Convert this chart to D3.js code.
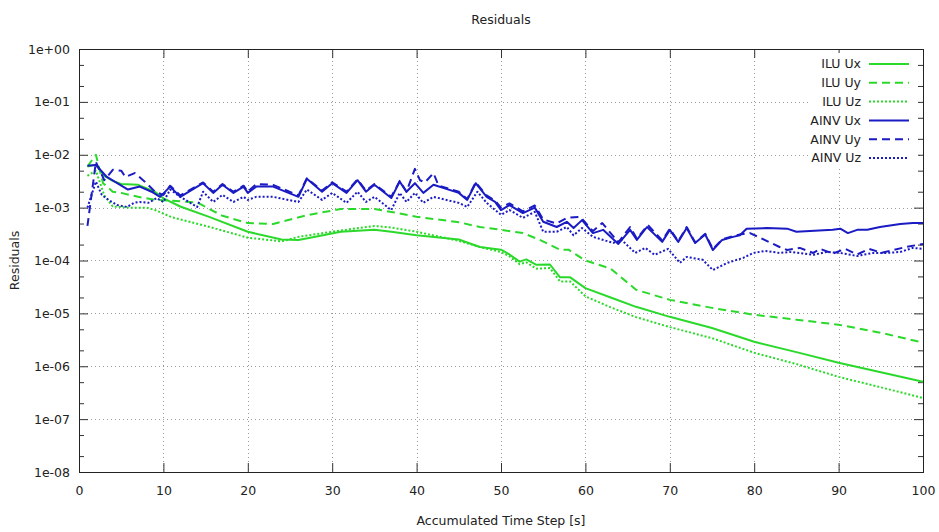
<!DOCTYPE html>
<html>
<head>
<meta charset="utf-8">
<script src="https://cdn.jsdelivr.net/npm/d3@7"></script>
<style>
  body { margin: 0; background: #fff; }
  text { font-family: "DejaVu Sans", sans-serif; font-size: 12.5px; fill: #222; }
</style>
</head>
<body>
<svg id="chart" width="939" height="532"></svg>
<script>
// tick values and labels
var xTicks = [0, 10, 20, 30, 40, 50, 60, 70, 80, 90, 100];
var yTicks = [1, 1e-1, 1e-2, 1e-3, 1e-4, 1e-5, 1e-6, 1e-7, 1e-8];
var yTickLabels = ["1e+00", "1e-01", "1e-02", "1e-03", "1e-04", "1e-05", "1e-06", "1e-07", "1e-08"];
var yMinorSteps = [2, 5];

var seriesNames = ["ILU Ux", "ILU Uy", "ILU Uz", "AINV Ux", "AINV Uy", "AINV Uz"];

// ILU Ux
var tIluUx = [1,2,3,4,5,7,9,10,12,15.5,20,24,26,28,31,35,37,40,45,47.5,50,51,52.2,53,54.2,55.8,57,58.2,60,63,66,70,75,80,85,90,95,100];
var vIluUx = [6e-3,6.5e-3,4e-3,3.2e-3,2.8e-3,2.7e-3,2e-3,1.5e-3,1.05e-3,6.6e-4,3.5e-4,2.5e-4,2.45e-4,2.8e-4,3.5e-4,3.8e-4,3.5e-4,3.0e-4,2.5e-4,1.8e-4,1.6e-4,1.3e-4,9.5e-5,1.05e-4,8.3e-5,8.4e-5,4.8e-5,4.8e-5,3.0e-5,2.0e-5,1.33e-5,8.6e-6,5.3e-6,2.9e-6,1.85e-6,1.16e-6,7.7e-7,5.1e-7];

// ILU Uy
var tIluUy = [1,2,2.85,4,5,7,9,11,14,17,20,23,27,31,35,37,40,45,47.5,50,52.6,54.6,57,58,60,63,66,70,75,80,85,90,95,100];
var vIluUy = [6e-3,1e-2,2.9e-3,2.0e-3,1.9e-3,1.6e-3,1.4e-3,1.35e-3,1.25e-3,7e-4,5.1e-4,4.9e-4,7.2e-4,9.4e-4,9.4e-4,8.3e-4,6.7e-4,5.3e-4,4.3e-4,3.8e-4,3.3e-4,2.45e-4,1.6e-4,1.6e-4,1.0e-4,7e-5,2.8e-5,1.8e-5,1.27e-5,9.4e-6,7.6e-6,6.1e-6,4.3e-6,2.8e-6];

// ILU Uz
var tIluUz = [1,2,3,4,6,8,9,11,15.5,20,24,26,31,35,37,40,45,47.5,50,51,52.2,53,54.2,55.8,57,58.2,60,63,66,70,75,80,85,90,95,100];
var vIluUz = [4e-3,5e-3,1.7e-3,1.05e-3,1.0e-3,1.0e-3,9e-4,6.6e-4,4.3e-4,2.7e-4,2.3e-4,2.8e-4,3.7e-4,4.5e-4,4.2e-4,3.5e-4,2.35e-4,1.8e-4,1.45e-4,1.2e-4,8.5e-5,9.2e-5,7.0e-5,7.2e-5,4.0e-5,4.0e-5,2.1e-5,1.3e-5,8.5e-6,5.5e-6,3.4e-6,1.8e-6,1.1e-6,6.3e-7,4e-7,2.5e-7];

// AINV Ux
var tAinvUx = [1,2,3.3,5.8,7.2,8.6,9.6,10.8,12,14.7,15.9,17,18.3,19.5,20,21,23,26,27,28.8,30,31.7,33,34,35,37,38,38.8,39.8,40.8,42,45,46,47,48.3,49.3,50,51,52.6,54,55,56.6,57.8,58.6,59.6,60.9,62.1,63.9,65.3,66.1,67.3,69.1,70,71,72,73,74.2,75.1,76.2,77.5,78.3,79.1,81.5,83.9,85,89.3,90.2,91.1,92.2,93.4,94.9,97.3,98.8,100];
var vAinvUx = [6.2e-3,6.4e-3,3.8e-3,2.2e-3,2.5e-3,2.0e-3,1.6e-3,2.5e-3,1.6e-3,2.9e-3,1.9e-3,2.7e-3,1.9e-3,2.5e-3,1.9e-3,2.5e-3,2.5e-3,1.6e-3,3.5e-3,2.0e-3,2.9e-3,1.9e-3,3.3e-3,2.0e-3,2.7e-3,1.52e-3,3.1e-3,2.0e-3,2.9e-3,1.9e-3,2.7e-3,1.9e-3,1.4e-3,2.9e-3,1.6e-3,1.28e-3,9e-4,1.12e-3,7.9e-4,1.0e-3,5.4e-4,4.3e-4,5.4e-4,4.1e-4,5.8e-4,3.3e-4,3.8e-4,2.06e-4,3.8e-4,2.45e-4,4.3e-4,2.25e-4,3.8e-4,2.25e-4,4.1e-4,2.15e-4,3.1e-4,1.58e-4,2.45e-4,2.8e-4,3.0e-4,4.0e-4,4.1e-4,4.0e-4,3.5e-4,3.8e-4,4.0e-4,3.3e-4,3.8e-4,3.8e-4,4.3e-4,4.9e-4,5.1e-4,5.1e-4];

// AINV Uy
var tAinvUy = [1,2,3,4,5,5.5,6.6,7.8,9,10,10.8,12,14.7,15.9,17,18.3,19.5,20,21,23,26,27,28.8,30,31.7,33,34,35,37,38,38.8,39.8,40.4,41,42,42.6,45,46,47,48.3,49.3,50,51,52.6,54,55,56.6,57.8,59.4,60.9,62,63.9,65.3,66.1,67.4,69.1,70,71,72,73,74.2,75.1,76.2,77.5,78.3,79.5,80.7,83,83.9,85.4,87,87.8,89.3,90.8,92.2,93.6,95.1,96.6,98,100];
var vAinvUy = [4.5e-4,7.3e-3,3.3e-3,5.2e-3,5.0e-3,3.8e-3,4.5e-3,3.1e-3,2.0e-3,1.74e-3,2.6e-3,1.7e-3,3.0e-3,2.0e-3,2.8e-3,2.0e-3,2.6e-3,2.0e-3,2.8e-3,2.7e-3,1.7e-3,3.6e-3,2.1e-3,3.0e-3,2.0e-3,3.4e-3,2.1e-3,2.8e-3,1.6e-3,3.2e-3,2.0e-3,5.4e-3,3.3e-3,3.0e-3,4.5e-3,2.6e-3,2.0e-3,1.45e-3,3.0e-3,1.7e-3,1.35e-3,1.0e-3,1.2e-3,8.5e-4,1.1e-3,6.0e-4,5.0e-4,6.4e-4,6.7e-4,3.6e-4,5.1e-4,2.2e-4,4.3e-4,2.6e-4,4.7e-4,2.4e-4,4.0e-4,2.3e-4,4.3e-4,2.2e-4,3.2e-4,1.65e-4,2.5e-4,2.9e-4,3.1e-4,3.3e-4,2.7e-4,1.8e-4,1.58e-4,1.73e-4,1.39e-4,1.66e-4,1.35e-4,1.66e-4,1.3e-4,1.66e-4,1.4e-4,1.6e-4,1.8e-4,2.06e-4];

// AINV Uz
var tAinvUz = [1,2,2.7,3.5,4.5,5.7,6.5,7.2,8.2,9.2,10,10.8,12,14,14.7,15.9,17,18.3,19.5,20,21,23,26,27,28.8,30,31.7,33,34,35,37,38,38.8,39.8,40.8,42,45,46,47.2,48.3,50,51,52.6,54,55,56.6,57.8,58.6,59.6,60.9,63.3,64.3,65.9,67.1,68.2,69.8,71.2,72,73.9,75.1,76.8,78.7,79.9,81.3,83,84.2,85.4,87,88.6,90.2,92.2,94.1,95.7,97.3,98.8,100];
var vAinvUz = [1.0e-3,3.1e-3,1.74e-3,1.4e-3,1.12e-3,1.03e-3,1.23e-3,1.28e-3,1.23e-3,1.52e-3,1.28e-3,2.2e-3,1.6e-3,1.03e-3,2.0e-3,1.28e-3,1.74e-3,1.28e-3,1.6e-3,1.4e-3,1.6e-3,1.6e-3,1.28e-3,2.2e-3,1.4e-3,1.9e-3,1.23e-3,2.0e-3,1.28e-3,1.6e-3,9e-4,1.9e-3,1.28e-3,1.9e-3,1.23e-3,1.6e-3,1.23e-3,1.03e-3,2.0e-3,1.23e-3,7.3e-4,9e-4,6.4e-4,8.3e-4,3.5e-4,3.5e-4,4.3e-4,3.0e-4,4.1e-4,2.8e-4,2.15e-4,2.45e-4,1.39e-4,1.73e-4,1.28e-4,1.66e-4,9e-5,1.17e-4,1.03e-4,6.6e-5,9e-5,1.12e-4,1.39e-4,1.52e-4,1.39e-4,1.45e-4,1.39e-4,1.28e-4,1.45e-4,1.39e-4,1.22e-4,1.39e-4,1.39e-4,1.45e-4,1.73e-4,1.66e-4];

var green = "#2bd92b", blue = "#1b1bc4";
var styles = [
    {color: green, dash: null},
    {color: green, dash: "8,5"},
    {color: green, dash: "2,2"},
    {color: blue, dash: null},
    {color: blue, dash: "8,5"},
    {color: blue, dash: "2,2"}
];
var tData = [tIluUx, tIluUy, tIluUz, tAinvUx, tAinvUy, tAinvUz];
var vData = [vIluUx, vIluUy, vIluUz, vAinvUx, vAinvUy, vAinvUz];

var plotLeft = 79, plotRight = 923, plotTop = 49, plotBottom = 472;

var svg = d3.select("#chart");
var x = d3.scaleLinear().domain([0, 100]).range([plotLeft, plotRight]);
var y = d3.scaleLog().domain([1e-8, 1]).range([plotBottom, plotTop]);

// minor tick values on log axis
var yMinor = [];
yTicks.forEach(function(d) {
    if (d < 1) yMinorSteps.forEach(function(m) { yMinor.push(d * m); });
});

// grid
var grid = svg.append("g").attr("class", "grid")
    .attr("stroke", "#999").attr("stroke-width", 1).attr("stroke-dasharray", "1,3");
grid.selectAll("line.gx").data(xTicks.slice(1, -1)).enter().append("line")
    .attr("x1", function(d) { return Math.round(x(d)) + 0.5; })
    .attr("x2", function(d) { return Math.round(x(d)) + 0.5; })
    .attr("y1", plotTop).attr("y2", plotBottom);
grid.selectAll("line.gy").data(yTicks.slice(1, -1)).enter().append("line")
    .attr("y1", function(d) { return Math.round(y(d)) + 0.5; })
    .attr("y2", function(d) { return Math.round(y(d)) + 0.5; })
    .attr("x1", plotLeft).attr("x2", plotRight);

// axes (gnuplot style: ticks pointing inward, mirrored)
function styleAxis(g) {
    g.select(".domain").remove();
    g.selectAll("line").attr("stroke", "#333");
    g.selectAll("text").attr("font-family", "DejaVu Sans, sans-serif").attr("font-size", 12.5).attr("fill", "#222");
}
var labelOf = {};
yTicks.forEach(function(d, i) { labelOf[d] = yTickLabels[i]; });

svg.append("g").attr("transform", "translate(" + plotLeft + ",0)")
    .call(d3.axisLeft(y).tickValues(yTicks).tickSize(-9).tickPadding(9)
        .tickFormat(function(d) { return labelOf[d]; }))
    .call(styleAxis);
svg.append("g").attr("transform", "translate(" + plotLeft + ",0)")
    .call(d3.axisLeft(y).tickValues(yMinor).tickSize(-5).tickFormat(""))
    .call(styleAxis);
svg.append("g").attr("transform", "translate(" + plotRight + ",0)")
    .call(d3.axisRight(y).tickValues(yTicks).tickSize(-9).tickFormat(""))
    .call(styleAxis);
svg.append("g").attr("transform", "translate(" + plotRight + ",0)")
    .call(d3.axisRight(y).tickValues(yMinor).tickSize(-5).tickFormat(""))
    .call(styleAxis);
svg.append("g").attr("transform", "translate(0," + plotBottom + ")")
    .call(d3.axisBottom(x).tickValues(xTicks).tickSize(-9).tickPadding(14))
    .call(styleAxis);
svg.append("g").attr("transform", "translate(0," + plotTop + ")")
    .call(d3.axisTop(x).tickValues(xTicks).tickSize(-9).tickFormat(""))
    .call(styleAxis);

// series lines
var line = d3.line()
    .x(function(d) { return x(d[0]); })
    .y(function(d) { return y(d[1]); });

seriesNames.forEach(function(name, i) {
    var pts = tData[i].map(function(t, k) { return [t, vData[i][k]]; });
    svg.append("path")
        .datum(pts)
        .attr("fill", "none")
        .attr("stroke", styles[i].color)
        .attr("stroke-width", 2)
        .attr("stroke-linejoin", "round")
        .attr("stroke-dasharray", styles[i].dash)
        .attr("d", line);
});

// border
svg.append("rect")
    .attr("x", plotLeft + 0.5).attr("y", plotTop + 0.5)
    .attr("width", plotRight - plotLeft).attr("height", plotBottom - plotTop)
    .attr("fill", "none").attr("stroke", "#222").attr("stroke-width", 1);

// legend
var legend = svg.append("g");
legend.append("rect")
    .attr("x", 808).attr("y", 53).attr("width", 110).attr("height", 114)
    .attr("fill", "#fff");
seriesNames.forEach(function(name, i) {
    var ly = 64 + i * 18.8;
    legend.append("text")
        .attr("x", 861).attr("y", ly).attr("dy", "0.35em")
        .attr("text-anchor", "end")
        .text(name);
    legend.append("line")
        .attr("x1", 869).attr("x2", 909)
        .attr("y1", ly).attr("y2", ly)
        .attr("stroke", styles[i].color)
        .attr("stroke-width", 2)
        .attr("stroke-dasharray", styles[i].dash);
});

// titles
svg.append("text")
    .attr("x", (plotLeft + plotRight) / 2).attr("y", 20).attr("dy", "0.35em")
    .attr("text-anchor", "middle")
    .text("Residuals");
svg.append("text")
    .attr("x", (plotLeft + plotRight) / 2).attr("y", 521).attr("dy", "0.35em")
    .attr("text-anchor", "middle")
    .text("Accumulated Time Step [s]");
svg.append("text")
    .attr("transform", "translate(15," + (plotTop + plotBottom) / 2 + ") rotate(-90)")
    .attr("dy", "0.35em")
    .attr("text-anchor", "middle")
    .text("Residuals");
</script>
</body>
</html>
